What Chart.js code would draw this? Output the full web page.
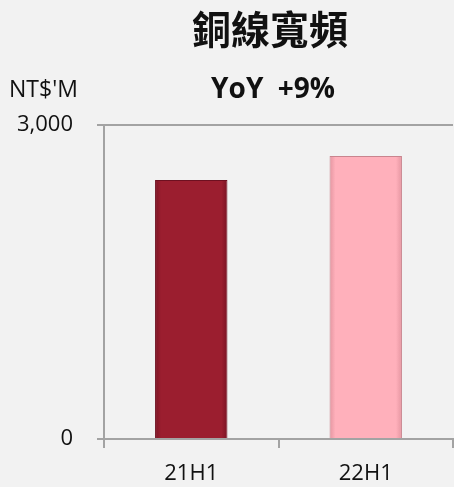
<!DOCTYPE html>
<html>
<head>
<meta charset="utf-8">
<script src="https://cdn.jsdelivr.net/npm/chart.js@4"></script>
<style>
  html, body { margin: 0; padding: 0; background: #f2f2f2; }
  #wrap { position: relative; width: 454px; height: 487px; overflow: hidden; }
  #c { position: absolute; left: 0; top: 0; }
  .txt { position: absolute; color: #111; white-space: nowrap; }
  #title { left: 0; width: 540px; top: 2px; text-align: center; font-family: "Noto Sans CJK TC", "Noto Sans CJK SC", sans-serif; font-weight: 700; font-size: 39px; line-height: 50px; }
  #sub { left: 0; width: 546px; top: 68px; text-align: center; font-family: "Open Sans", "Liberation Sans", sans-serif; font-weight: 700; font-size: 28px; line-height: 38px; word-spacing: 7px; }
  #unit { left: 9px; top: 73px; font-family: "Open Sans", "Liberation Sans", sans-serif; font-size: 23px; line-height: 30px; }
</style>
</head>
<body>
<div id="wrap">
  <canvas id="c" width="454" height="487"></canvas>
  <div class="txt" id="title">銅線寬頻</div>
  <div class="txt" id="sub">YoY +9%</div>
  <div class="txt" id="unit">NT$'M</div>
</div>
<script>
const categories = ["21H1", "22H1"];
const values = [2475, 2705];
const yTicks = [0, 3000];
const barColors = ["#9b1e2f", "#ffb0bb"];
const barEdges = ["#7c1424", "#e596a1"];
const barBorders = ["#6e1020", "#c9848e"];

const axisColor = "#a3a3a3";
const tickFont = { family: "'Open Sans', 'Liberation Sans', sans-serif", size: 22 };

function barFill(ctx) {
  const chart = ctx.chart;
  const i = ctx.dataIndex;
  const xs = chart.scales.x;
  if (!xs || !chart.chartArea) return barColors[i];
  const cx = xs.getPixelForValue(i);
  const half = 36;
  const g = chart.ctx.createLinearGradient(cx - half, 0, cx + half, 0);
  g.addColorStop(0, barEdges[i]);
  g.addColorStop(0.08, barColors[i]);
  g.addColorStop(0.92, barColors[i]);
  g.addColorStop(1, barEdges[i]);
  return g;
}

new Chart(document.getElementById("c"), {
  type: "bar",
  data: {
    labels: categories,
    datasets: [{
      data: values,
      backgroundColor: barFill,
      borderColor: barBorders,
      borderWidth: 1,
      categoryPercentage: 1.0,
      barPercentage: 0.415
    }]
  },
  options: {
    responsive: false,
    animation: false,
    layout: { padding: { top: 125, right: 1, left: 0, bottom: 0 } },
    plugins: { legend: { display: false }, tooltip: { enabled: false }, title: { display: false } },
    scales: {
      x: {
        offset: true,
        grid: { offset: true, drawOnChartArea: false, drawTicks: true, tickLength: 9, color: axisColor, lineWidth: 2 },
        border: { color: axisColor, width: 2 },
        ticks: { color: "#111", font: tickFont, padding: 13 },
        afterFit: s => { s.height = 487 - 439; }
      },
      y: {
        min: 0, max: 3000,
        afterBuildTicks: s => { s.ticks = yTicks.map(v => ({ value: v })); },
        grid: { drawOnChartArea: true, drawTicks: true, tickLength: 7, color: axisColor, lineWidth: 2 },
        border: { color: axisColor, width: 2 },
        ticks: { color: "#111", font: tickFont, padding: 24, callback: v => v.toLocaleString("en-US") },
        afterFit: s => { s.width = 104; }
      }
    }
  }
});
</script>
</body>
</html>
